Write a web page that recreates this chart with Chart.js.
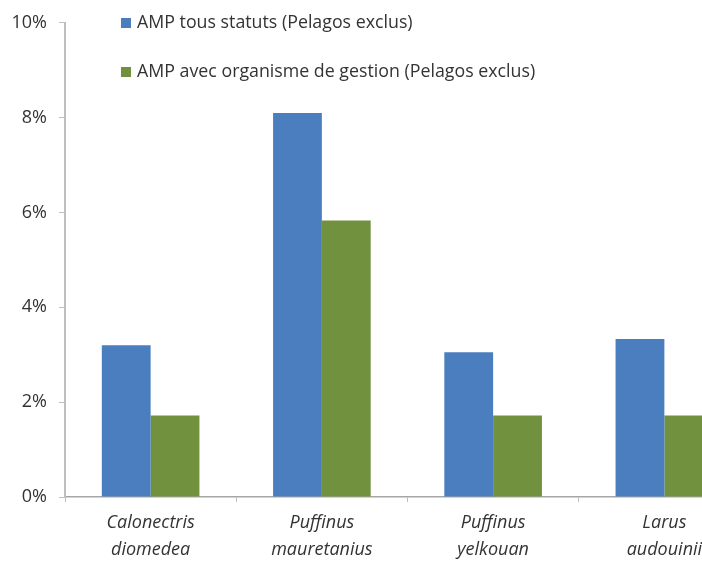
<!DOCTYPE html>
<html>
<head>
<meta charset="utf-8">
<script src="https://cdn.jsdelivr.net/npm/chart.js@4/dist/chart.umd.min.js"></script>
<style>
  html, body { margin: 0; padding: 0; background: #fff; overflow: hidden; width: 702px; height: 562px; }
  #wrap { position: relative; width: 760px; height: 562px; }
  #legend { position: absolute; left: 121px; top: 9px; font-family: "Open Sans", sans-serif; font-size: 17.8px; color: #333; }
  #legend .item { height: 24px; line-height: 24px; margin-bottom: 25px; white-space: nowrap; }
  #legend .sw { display: inline-block; width: 10px; height: 10px; margin-right: 6px; vertical-align: 0px; }
</style>
</head>
<body>
<div id="wrap">
  <canvas id="chart" width="760" height="562"></canvas>
  <div id="legend"></div>
</div>
<script>
const categories = [
  ["Calonectris", "diomedea"],
  ["Puffinus", "mauretanius"],
  ["Puffinus", "yelkouan"],
  ["Larus", "audouinii"]
];
const seriesNames = [
  "AMP tous statuts (Pelagos exclus)",
  "AMP avec organisme de gestion (Pelagos exclus)"
];
const tousStatuts = [3.2, 8.1, 3.05, 3.33];
const avecGestion = [1.72, 5.83, 1.72, 1.72];
const yTicks = [0, 2, 4, 6, 8, 10];
const colors = ["#4A7EBF", "#71913F"];

const ctx = document.getElementById("chart");

const chart = new Chart(ctx, {
  type: "bar",
  data: {
    labels: categories,
    datasets: [
      { label: seriesNames[0], data: tousStatuts, backgroundColor: colors[0] },
      { label: seriesNames[1], data: avecGestion, backgroundColor: colors[1] }
    ]
  },
  options: {
    responsive: false,
    animation: false,
    layout: { padding: { top: 19, right: 10, left: 0, bottom: 0 } },
    datasets: {
      bar: { categoryPercentage: 0.57, barPercentage: 1.0 }
    },
    plugins: {
      legend: { display: false },
      tooltip: { enabled: false }
    },
    scales: {
      x: {
        grid: { offset: true, drawOnChartArea: false, drawTicks: true, tickLength: 5, color: "#BFBFBF" },
        border: { color: "#A6A6A6", width: 1.5 },
        ticks: {
          color: "#333",
          padding: 7,
          font: { family: "Open Sans", size: 18, style: "italic", lineHeight: 1.5 },
          maxRotation: 0
        },
        afterFit: (scale) => { scale.height = 65; }
      },
      y: {
        min: 0,
        max: 10,
        afterBuildTicks: (scale) => { scale.ticks = yTicks.map((v) => ({ value: v })); },
        grid: { drawOnChartArea: false, drawTicks: true, tickLength: 6, color: "#BFBFBF" },
        border: { color: "#BFBFBF", width: 2 },
        ticks: {
          color: "#333",
          padding: 12,
          font: { family: "Open Sans", size: 18 },
          callback: (v) => v + "%"
        },
        afterFit: (scale) => { scale.width = 65; }
      }
    }
  }
});

const legend = document.getElementById("legend");
seriesNames.forEach((name, i) => {
  const item = document.createElement("div");
  item.className = "item";
  item.innerHTML = '<span class="sw" style="background:' + colors[i] + '"></span>' + name;
  legend.appendChild(item);
});
</script>
</body>
</html>
